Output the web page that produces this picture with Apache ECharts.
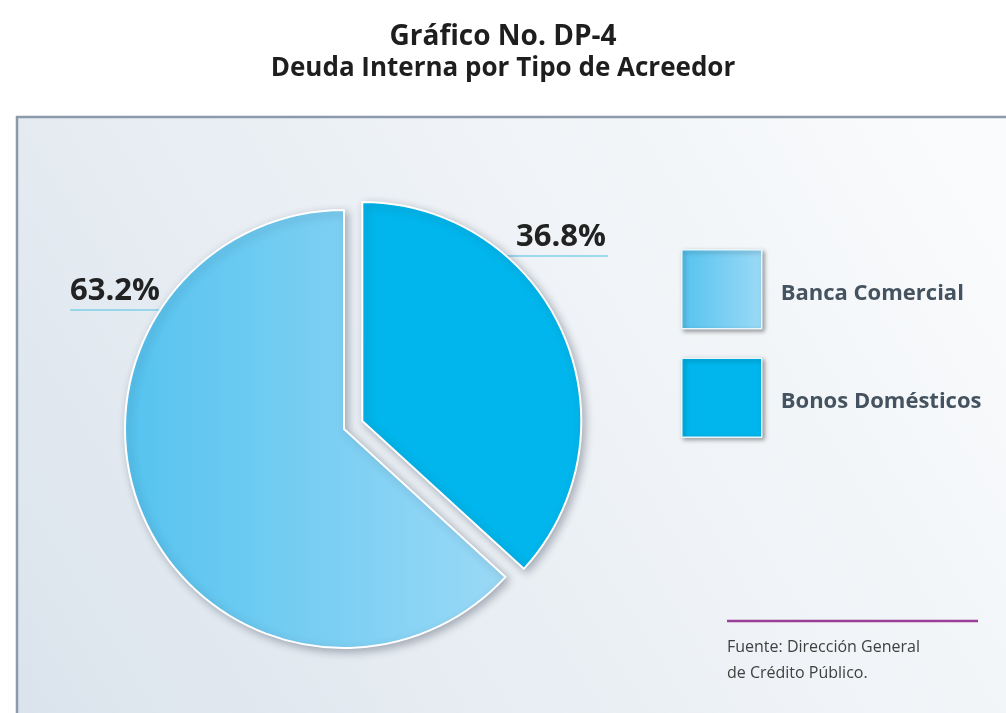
<!DOCTYPE html>
<html>
<head>
<meta charset="utf-8">
<script src="https://cdn.jsdelivr.net/npm/echarts@6/dist/echarts.min.js"></script>
<style>
  html, body { margin: 0; padding: 0; background: #fff; }
  #main { width: 1006px; height: 713px; }
</style>
</head>
<body>
<div id="main"></div>
<script>
// data
var categories = ['Bonos Domésticos', 'Banca Comercial'];
var shares = [36.8, 63.2];
var legendOrder = ['Banca Comercial', 'Bonos Domésticos'];

var font = '"Open Sans", "Noto Sans", sans-serif';

var lightFill = {
    type: 'linear', x: 0, y: 0, x2: 1, y2: 0,
    colorStops: [{ offset: 0, color: '#55c3ef' }, { offset: 1, color: '#9bd9f6' }]
};
var sliceColors = ['#00b6ec', lightFill];
var hidden = { color: 'rgba(0,0,0,0)', borderWidth: 0, shadowBlur: 0, shadowColor: 'rgba(0,0,0,0)' };

var center = [344, 429];
var radius = 219;
var pull = 20;   // the first slice is pulled out of the pie
var total = shares[0] + shares[1];
var midAngle = (shares[0] / total) * Math.PI;   // half of the slice, clockwise from the top
var pulledCenter = [center[0] + pull * Math.sin(midAngle), center[1] - pull * Math.cos(midAngle)];

// where each % label sits (text centre x, text bottom y, underline from/to)
var labelSpots = [
    { x: 561, y: 253, x1: 478, x2: 608, ly: 256 },
    { x: 115, y: 307, x1: 70, x2: 195, ly: 310 }
];

var sliceStyle = {
    borderColor: '#ffffff',
    borderWidth: 2,
    shadowBlur: 8,
    shadowColor: 'rgba(40,50,70,0.35)',
    shadowOffsetX: 3,
    shadowOffsetY: 3
};

// the pie itself, with the pulled slice left empty; labels drawn here
var baseData = categories.map(function (name, i) {
    return { name: name, value: shares[i], itemStyle: i === 0 ? hidden : { color: sliceColors[i] } };
});
// the pulled-out slice only
var pulledData = categories.map(function (name, i) {
    return { name: name, value: shares[i], itemStyle: i === 0 ? { color: sliceColors[i] } : hidden };
});

var myChart = echarts.init(document.getElementById('main'));
var option = {
    backgroundColor: '#ffffff',
    animation: false,
    title: {
        text: 'Gráfico No. DP-4',
        subtext: 'Deuda Interna por Tipo de Acreedor',
        left: 'center',
        top: 18,
        itemGap: 5,
        textStyle: { fontFamily: font, fontSize: 28, fontWeight: 'bold', color: '#1e1e1e' },
        subtextStyle: { fontFamily: font, fontSize: 26, fontWeight: 'bold', color: '#1e1e1e' }
    },
    graphic: [
        {
            type: 'rect', z: -10, silent: true,
            shape: { x: 17, y: 117, width: 1010, height: 620 },
            style: {
                fill: {
                    type: 'linear', x: 0, y: 1, x2: 1, y2: 0,
                    colorStops: [{ offset: 0, color: '#dae3ec' }, { offset: 0.55, color: '#eef2f6' }, { offset: 1, color: '#fbfcfd' }]
                },
                stroke: '#8d9aab', lineWidth: 2.5
            }
        },
        {
            type: 'line', silent: true,
            shape: { x1: 727, y1: 621, x2: 978, y2: 621 },
            style: { stroke: '#9a3e98', lineWidth: 2.5 }
        },
        {
            type: 'text', silent: true, left: 727, top: 634,
            style: {
                text: 'Fuente: Dirección General\nde Crédito Público.',
                font: '16px ' + font, fill: '#404040', lineHeight: 26
            }
        }
    ],
    legend: {
        orient: 'vertical',
        left: 676,
        top: 244,
        data: legendOrder.map(function (name) {
            return { name: name, itemStyle: { color: sliceColors[categories.indexOf(name)] } };
        }),
        icon: 'rect',
        itemWidth: 80,
        itemHeight: 79,
        itemGap: 28,
        selectedMode: false,
        formatter: function (name) { return '{t|' + name + '}'; },
        itemStyle: { borderColor: '#e8f6fc', borderWidth: 1.5, shadowBlur: 4, shadowColor: 'rgba(0,0,0,0.35)', shadowOffsetX: 2, shadowOffsetY: 2 },
        textStyle: {
            rich: {
                t: { fontFamily: font, fontSize: 22, fontWeight: 'bold', color: '#44535f', padding: [8, 0, 0, 14] }
            }
        }
    },
    series: [
        {
            name: 'Deuda Interna',
            type: 'pie',
            center: center,
            radius: radius,
            startAngle: 90,
            clockwise: true,
            itemStyle: sliceStyle,
            label: {
                show: true,
                formatter: function (p) { return p.value.toFixed(1) + '%'; },
                fontFamily: font,
                fontSize: 31,
                fontWeight: 'bold',
                color: '#222222',
                overflow: 'none',
                width: 120
            },
            labelLine: {
                show: true,
                lineStyle: { color: '#7fd0e8', width: 1.5 }
            },
            labelLayout: function (params) {
                var s = labelSpots[params.dataIndex];
                return {
                    x: s.x,
                    y: s.y,
                    align: 'center',
                    verticalAlign: 'bottom',
                    labelLinePoints: [[s.x1, s.ly], [s.x1, s.ly], [s.x2, s.ly]]
                };
            },
            emphasis: { disabled: true },
            data: baseData
        },
        {
            name: 'Deuda Interna ',
            type: 'pie',
            center: pulledCenter,
            radius: radius,
            startAngle: 90,
            clockwise: true,
            silent: true,
            itemStyle: sliceStyle,
            label: { show: false },
            labelLine: { show: false },
            emphasis: { disabled: true },
            data: pulledData
        }
    ]
};
myChart.setOption(option);
</script>
</body>
</html>
